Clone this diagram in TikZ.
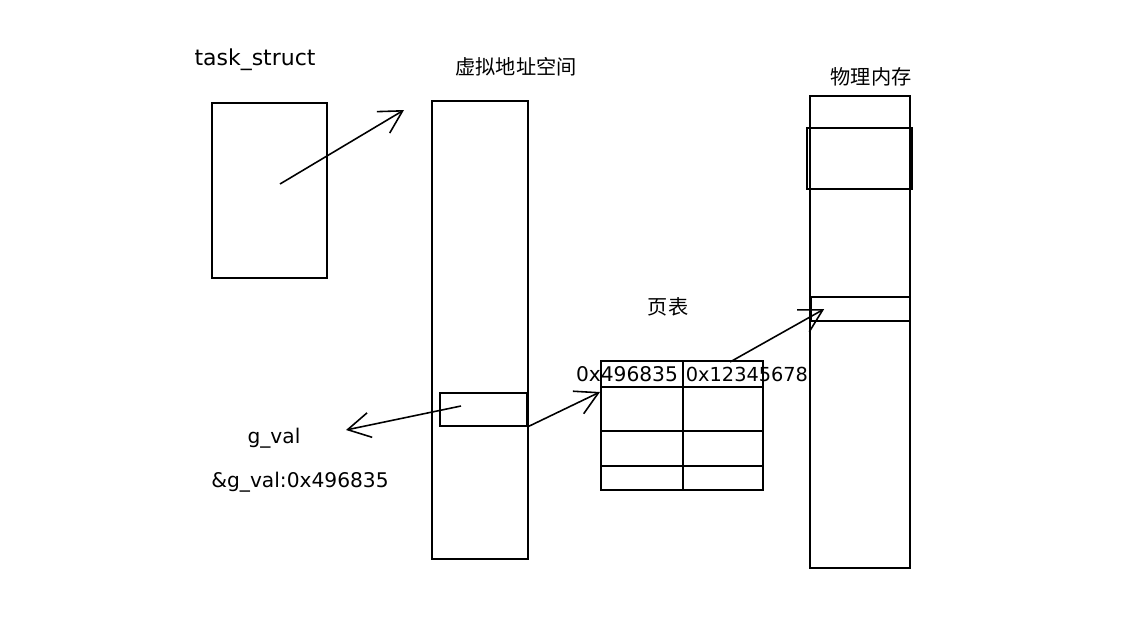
\documentclass[tikz,border=0pt]{standalone}
\usepackage{fontspec}
\setmainfont{DejaVu Sans}
\newfontfamily\cjk{Noto Sans CJK SC}
\usetikzlibrary{arrows.meta,positioning}

\begin{document}
\begin{tikzpicture}[x=0.02cm,y=-0.02cm,>={Straight Barb[length=4.5mm,width=5mm]},
  every node/.style={font=\fontsize{11.5}{13}\selectfont},
  box/.style={draw,line width=0.9pt,inner sep=0pt},
  link/.style={->,line width=0.9pt}]
\useasboundingbox (0,0) rectangle (1143,619);
% task_struct
\node[font=\fontsize{12.5}{14}\selectfont] (tasklbl) at (255,60) {task\_struct};
\node[box,minimum width=2.3cm,minimum height=3.5cm] (task) at (269.5,190.5) {};
% virtual address space
\node[font=\cjk\fontsize{11.5}{13}\selectfont] (vlbl) at (516,67) {虚拟地址空间};
\node[box,minimum width=1.92cm,minimum height=9.16cm] (vspace) at (480,330) {};
\node[box,minimum width=1.74cm,minimum height=0.66cm] (gbox) at (483.5,409.5) {};
\node (gval) at (274,438) {g\_val};
\node (gaddr) at (300,482) {\&g\_val:0x496835};
% page table
\node[font=\cjk\fontsize{11.5}{13}\selectfont] (ptlbl) at (668,307) {页表};
\node[box,minimum width=3.24cm,minimum height=2.58cm] (ptab) at (682,425.5) {};
\foreach \y in {387,431,466}
  \draw[line width=0.9pt] (601,\y) -- (763,\y);
\draw[line width=0.9pt] (683,361) -- (683,490);
\node (pa) at (627,374) {0x496835};
\node[font=\fontsize{11}{13}\selectfont] (pb) at (747,374) {0x12345678};
% physical memory
\node[font=\cjk\fontsize{11.5}{13}\selectfont] (plbl) at (871,77) {物理内存};
\node[box,minimum width=2cm,minimum height=9.44cm] (phys) at (860,332) {};
\node[box,minimum width=2.1cm,minimum height=1.22cm] (frameA) at (859.5,158.5) {};
\node[box,minimum width=1.98cm,minimum height=0.48cm] (frameB) at (860.5,309) {};
% arrows
\coordinate (tsrc) at (280,184);
\coordinate (tdst) at (404,110);
\draw[link] (tsrc) -- (tdst);
\coordinate (gsrc) at (461,406);
\coordinate (gdst) at (346,430);
\draw[link] (gsrc) -- (gdst);
\coordinate (ptin) at (600,392);
\draw[link] (gbox.south east) -- (ptin);
\coordinate (psrc) at (730,362);
\draw[link] (psrc) -- ([xshift=0.28cm]frameB.west);
\end{tikzpicture}
\end{document}
